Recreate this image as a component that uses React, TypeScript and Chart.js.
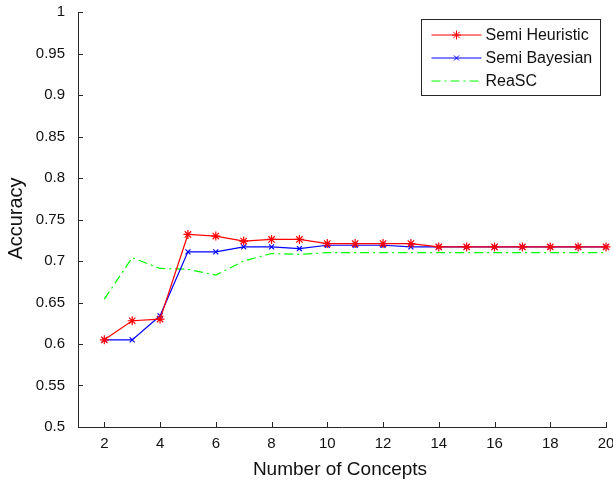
import React, { useEffect, useRef } from 'react';
import { Chart, registerables } from 'chart.js';

Chart.register(...registerables);

const concepts = [2, 3, 4, 5, 6, 7, 8, 9, 10, 11, 12, 13, 14, 15, 16, 17, 18, 19, 20];
const semiHeuristic = [0.605, 0.628, 0.630, 0.732, 0.730, 0.724, 0.726, 0.726, 0.721, 0.721, 0.721, 0.721, 0.717, 0.717, 0.717, 0.717, 0.717, 0.717, 0.717];
const semiBayesian = [0.605, 0.605, 0.634, 0.711, 0.711, 0.717, 0.717, 0.715, 0.719, 0.719, 0.719, 0.717, 0.717, 0.717, 0.717, 0.717, 0.717, 0.717, 0.717];
const reaSC = [0.654, 0.704, 0.691, 0.690, 0.683, 0.700, 0.709, 0.708, 0.710, 0.710, 0.710, 0.710, 0.710, 0.710, 0.710, 0.710, 0.710, 0.710, 0.710];
const xTicks = [2, 4, 6, 8, 10, 12, 14, 16, 18, 20];
const yTicks = [0.5, 0.55, 0.6, 0.65, 0.7, 0.75, 0.8, 0.85, 0.9, 0.95, 1];
const seriesNames = ['Semi Heuristic', 'Semi Bayesian', 'ReaSC'];
const xTitle = 'Number of Concepts';
const yTitle = 'Accuracy';

const AXIS = '#262626';
const FONT = '"Liberation Sans", Arial, sans-serif';

function drawMarker(ctx: CanvasRenderingContext2D, style: string, x: number, y: number, r: number, color: string) {
  ctx.save();
  ctx.strokeStyle = color;
  ctx.lineWidth = 1;
  ctx.setLineDash([]);
  ctx.beginPath();
  if (style === 'star' || style === 'cross') {
    ctx.moveTo(x - r, y); ctx.lineTo(x + r, y);
    ctx.moveTo(x, y - r); ctx.lineTo(x, y + r);
  }
  if (style === 'star' || style === 'crossRot') {
    const d = r * Math.SQRT1_2;
    ctx.moveTo(x - d, y - d); ctx.lineTo(x + d, y + d);
    ctx.moveTo(x - d, y + d); ctx.lineTo(x + d, y - d);
  }
  ctx.stroke();
  ctx.restore();
}

const matlabPlugin = {
  id: 'matlabDecor',
  afterDraw(chart: any) {
    const ctx: CanvasRenderingContext2D = chart.ctx;
    const { left, right, top, bottom } = chart.chartArea;
    const xs = chart.scales.x;
    const ys = chart.scales.y;
    ctx.save();
    // inward tick marks
    ctx.strokeStyle = AXIS;
    ctx.lineWidth = 1;
    ctx.beginPath();
    yTicks.forEach((v) => {
      const py = Math.round(ys.getPixelForValue(v)) + 0.5;
      ctx.moveTo(left, py);
      ctx.lineTo(left + 5, py);
    });
    xTicks.forEach((v) => {
      const px = Math.round(xs.getPixelForValue(v)) + 0.5;
      ctx.moveTo(px, bottom);
      ctx.lineTo(px, bottom - 5);
    });
    ctx.stroke();

    // axis titles
    ctx.fillStyle = '#111';
    ctx.textAlign = 'center';
    ctx.textBaseline = 'middle';
    ctx.font = `19px ${FONT}`;
    ctx.fillText(xTitle, (left + right) / 2 - 2, 470);
    ctx.save();
    ctx.translate(16, (top + bottom) / 2 - 1);
    ctx.rotate(-Math.PI / 2);
    ctx.font = `20px ${FONT}`;
    ctx.fillText(yTitle, 0, 0);
    ctx.restore();

    // legend
    const bx = right - 184.5;
    const by = top + 7.5;
    const bw = 179;
    const bh = 76;
    ctx.fillStyle = '#ffffff';
    ctx.fillRect(bx, by, bw, bh);
    ctx.strokeStyle = AXIS;
    ctx.lineWidth = 1;
    ctx.strokeRect(bx, by, bw, bh);
    const rows = [by + 15.5, by + 38.5, by + 61.5];
    chart.data.datasets.forEach((ds: any, i: number) => {
      const ry = rows[i];
      const x0 = bx + 10;
      const x1 = bx + 60;
      ctx.save();
      ctx.strokeStyle = ds.borderColor;
      ctx.lineWidth = 1;
      ctx.setLineDash(ds.borderDash || []);
      ctx.beginPath();
      ctx.moveTo(x0, ry);
      ctx.lineTo(x1, ry);
      ctx.stroke();
      ctx.restore();
      if (ds.pointRadius > 0) {
        drawMarker(ctx, ds.pointStyle, (x0 + x1) / 2, ry, ds.pointRadius, ds.borderColor);
      }
      ctx.fillStyle = '#111';
      ctx.textAlign = 'left';
      ctx.textBaseline = 'middle';
      ctx.font = `16px ${FONT}`;
      ctx.fillText(ds.label, x1 + 4, ry + 1);
    });
    ctx.restore();
  },
};

export default function App() {
  const ref = useRef<HTMLCanvasElement | null>(null);

  useEffect(() => {
    if (!ref.current) return;
    const toPts = (arr: number[]) => concepts.map((c, i) => ({ x: c, y: arr[i] }));
    const chart = new Chart(ref.current, {
      type: 'line',
      data: {
        datasets: [
          {
            label: seriesNames[0],
            data: toPts(semiHeuristic),
            borderColor: '#ff0000',
            backgroundColor: '#ff0000',
            borderWidth: 1.2,
            pointStyle: 'star',
            pointRadius: 4.5,
            pointBorderWidth: 1.2,
            pointBorderColor: '#ff0000',
            tension: 0,
            clip: false,
          },
          {
            label: seriesNames[1],
            data: toPts(semiBayesian),
            borderColor: '#0000ff',
            backgroundColor: '#0000ff',
            borderWidth: 1.2,
            pointStyle: 'crossRot',
            pointRadius: 3.5,
            pointBorderWidth: 1.2,
            pointBorderColor: '#0000ff',
            tension: 0,
            clip: false,
          },
          {
            label: seriesNames[2],
            data: toPts(reaSC),
            borderColor: '#00ff00',
            backgroundColor: '#00ff00',
            borderWidth: 1.2,
            borderDash: [9, 4, 2, 4],
            pointRadius: 0,
            tension: 0,
            clip: false,
          },
        ] as any,
      },
      options: {
        responsive: false,
        animation: false,
        events: [],
        layout: { padding: { left: 0, top: 12, right: 7, bottom: 0 } },
        plugins: {
          legend: { display: false },
          title: { display: false },
          tooltip: { enabled: false },
        },
        scales: {
          x: {
            type: 'linear',
            min: 1.056,
            max: 20,
            grid: { display: false },
            border: { display: true, color: AXIS, width: 1 },
            afterBuildTicks: (scale: any) => {
              scale.ticks = xTicks.map((v) => ({ value: v }));
            },
            afterFit: (scale: any) => {
              scale.height = 57;
              scale.paddingLeft = 0;
              scale.paddingRight = 0;
            },
            ticks: {
              autoSkip: false,
              maxRotation: 0,
              padding: 0,
              color: '#111',
              font: { family: FONT, size: 15 },
              callback: (v: any) => String(v),
            },
          },
          y: {
            type: 'linear',
            min: 0.5,
            max: 1,
            grid: { display: false },
            border: { display: true, color: AXIS, width: 1 },
            afterBuildTicks: (scale: any) => {
              scale.ticks = yTicks.map((v) => ({ value: v }));
            },
            afterFit: (scale: any) => {
              scale.width = 78;
              scale.paddingTop = 0;
              scale.paddingBottom = 0;
            },
            ticks: {
              autoSkip: false,
              padding: 5,
              color: '#111',
              font: { family: FONT, size: 15 },
              callback: (v: any) => String(Number(Number(v).toFixed(2))),
            },
          },
        },
      } as any,
      plugins: [matlabPlugin],
    });
    return () => chart.destroy();
  }, []);

  return (
    <div style={{ position: 'absolute', left: 0, top: 0, width: 613, height: 484, background: '#fff' }}>
      <canvas ref={ref} width={613} height={484} style={{ display: 'block', width: 613, height: 484 }} />
    </div>
  );
}
